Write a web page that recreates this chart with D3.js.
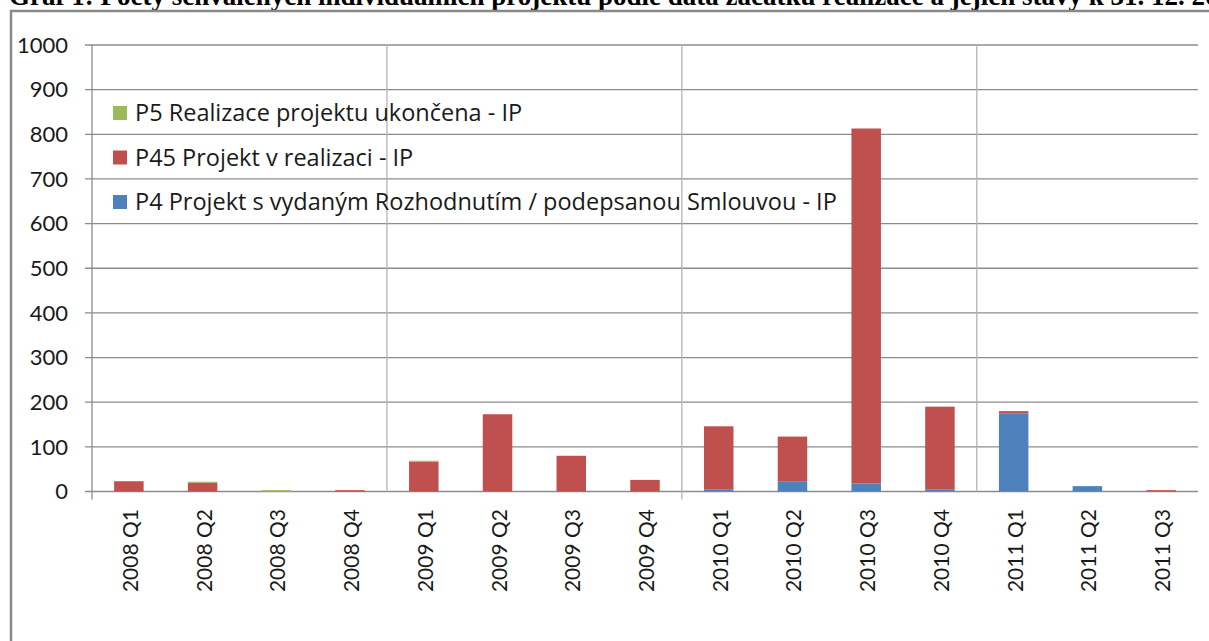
<!DOCTYPE html>
<html>
<head>
<meta charset="utf-8">
<script src="https://cdn.jsdelivr.net/npm/d3@7"></script>
<style>
  body { margin: 0; background: #fff; overflow: hidden; }
  svg { display: block; }
</style>
</head>
<body>
<div id="chart"></div>
<script>
// Categories (quarters of project start)
const categories = ['2008 Q1', '2008 Q2', '2008 Q3', '2008 Q4',
  '2009 Q1', '2009 Q2', '2009 Q3', '2009 Q4',
  '2010 Q1', '2010 Q2', '2010 Q3', '2010 Q4',
  '2011 Q1', '2011 Q2', '2011 Q3'];

// Series values
const p4Values = [0, 0, 0, 0, 0, 0, 0, 0, 4, 23, 18, 4, 175, 12, 0];
const p45Values = [23, 20, 0, 3, 67, 173, 80, 26, 142, 100, 795, 186, 5, 0, 3];
const p5Values = [0, 2, 3, 0, 2, 0, 0, 0, 0, 0, 0, 0, 0, 0, 0];

const seriesNames = ['P4 Projekt s vydaným Rozhodnutím / podepsanou Smlouvou - IP',
  'P45 Projekt v realizaci - IP',
  'P5 Realizace projektu ukončena - IP'];
const seriesColors = ['#4f81bd', '#c0504d', '#9bbb59'];
const yTicks = [0, 100, 200, 300, 400, 500, 600, 700, 800, 900, 1000];

const titleText = 'Graf 1: Počty schválených individuálních projektů podle data začátku realizace a jejich stavy k 31. 12. 2011';

// Build the table for d3.stack
const keys = ['p4', 'p45', 'p5'];
const table = categories.map((c, i) => ({ cat: c, p4: p4Values[i], p45: p45Values[i], p5: p5Values[i] }));

const width = 1209, height = 641;
const font = 'Lato, "Open Sans", sans-serif';

const svg = d3.select('#chart')
  .append('svg')
  .attr('width', width)
  .attr('height', height);

// Title (clipped at the top, as in the source)
svg.append('text')
  .attr('x', 9)
  .attr('y', 5)
  .style('font-family', '"Liberation Serif", "Times New Roman", serif')
  .style('font-weight', 'bold')
  .style('font-size', '27px')
  .text(titleText);

// Outer chart frame
svg.append('path')
  .attr('d', `M11,${height} V11 H${width}`)
  .attr('fill', 'none')
  .attr('stroke', '#8a8a8a')
  .attr('stroke-width', 2.5);

// Scales
const x = d3.scaleBand()
  .domain(categories)
  .range([92, 1198])
  .paddingInner(0.6)
  .paddingOuter(0.3);

const y = d3.scaleLinear()
  .domain([0, 1000])
  .range([491.5, 45]);

// Horizontal gridlines with tick marks on the left
svg.append('g')
  .selectAll('line')
  .data(yTicks)
  .join('line')
  .attr('x1', 85)
  .attr('x2', 1198)
  .attr('y1', d => y(d))
  .attr('y2', d => y(d))
  .attr('stroke', '#8c8c8c')
  .attr('stroke-width', 1.3);

// Vertical gridlines every 4 quarters (year boundaries)
const step = x.step();
const yearIdx = [4, 8, 12];
svg.append('g')
  .selectAll('line')
  .data(yearIdx)
  .join('line')
  .attr('x1', i => x.range()[0] + i * step)
  .attr('x2', i => x.range()[0] + i * step)
  .attr('y1', y(1000))
  .attr('y2', i => i === 8 ? y(0) + 8 : y(0))
  .attr('stroke', '#b4b4b4')
  .attr('stroke-width', 1.3);

// Y axis line
svg.append('line')
  .attr('x1', 92).attr('x2', 92)
  .attr('y1', y(1000)).attr('y2', y(0) + 8)
  .attr('stroke', '#8c8c8c')
  .attr('stroke-width', 1.3);

// Y tick labels
svg.append('g')
  .selectAll('text')
  .data(yTicks)
  .join('text')
  .attr('x', 68)
  .attr('y', d => y(d))
  .attr('dy', '0.35em')
  .attr('text-anchor', 'end')
  .style('font-family', font)
  .style('font-size', '22px')
  .style('fill', '#1a1a1a')
  .text(d => d);

// Stacked bars
const stacked = d3.stack().keys(keys)(table);
svg.append('g')
  .selectAll('g')
  .data(stacked)
  .join('g')
  .attr('fill', (d, i) => seriesColors[i])
  .selectAll('rect')
  .data(d => d)
  .join('rect')
  .attr('x', d => x(d.data.cat))
  .attr('y', d => y(d[1]))
  .attr('width', x.bandwidth())
  .attr('height', d => y(d[0]) - y(d[1]));

// X tick labels, rotated
svg.append('g')
  .selectAll('text')
  .data(categories)
  .join('text')
  .attr('transform', d => `translate(${x(d) + x.bandwidth() / 2 + 9},509) rotate(-90)`)
  .attr('text-anchor', 'end')
  .style('font-family', font)
  .style('font-size', '21px')
  .style('fill', '#1a1a1a')
  .text(d => d);

// Legend (top to bottom: P5, P45, P4)
const legendOrder = [2, 1, 0];
const legend = svg.append('g')
  .selectAll('g')
  .data(legendOrder)
  .join('g')
  .attr('transform', (d, i) => `translate(113,${113 + i * 44.5})`);

legend.append('rect')
  .attr('x', 0)
  .attr('y', -7)
  .attr('width', 14)
  .attr('height', 14)
  .attr('fill', d => seriesColors[d]);

legend.append('text')
  .attr('x', 22)
  .attr('y', 0)
  .attr('dy', '0.35em')
  .style('font-family', '"Open Sans", sans-serif')
  .style('font-size', '23.5px')
  .style('fill', '#1a1a1a')
  .text(d => seriesNames[d]);
</script>
</body>
</html>
